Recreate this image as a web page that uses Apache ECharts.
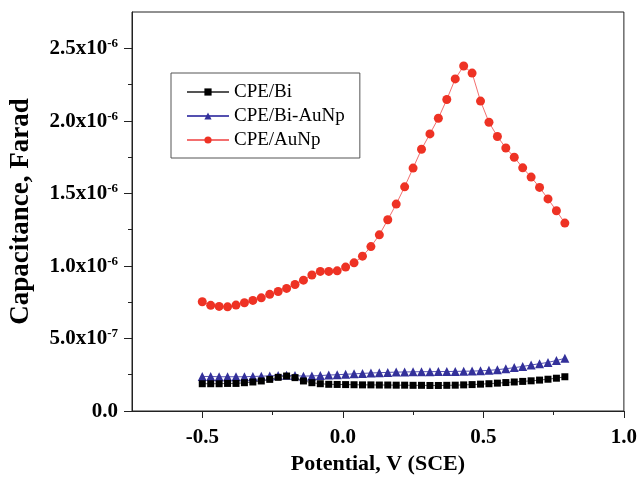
<!DOCTYPE html>
<html>
<head>
<meta charset="utf-8">
<script src="https://cdn.jsdelivr.net/npm/echarts@6/dist/echarts.min.js"></script>
<style>
html,body{margin:0;padding:0;background:#fff;}
#chart{width:640px;height:482px;}
</style>
</head>
<body>
<div id="chart"></div>
<script>
// Potential (V vs SCE)
const potential = [-0.50,-0.47,-0.44,-0.41,-0.38,-0.35,-0.32,-0.29,-0.26,-0.23,-0.20,-0.17,-0.14,-0.11,-0.08,-0.05,-0.02,0.01,0.04,0.07,0.10,0.13,0.16,0.19,0.22,0.25,0.28,0.31,0.34,0.37,0.40,0.43,0.46,0.49,0.52,0.55,0.58,0.61,0.64,0.67,0.70,0.73,0.76,0.79];
// Capacitance readings, in micro-farad (x10^-6 F)
const capBi = [0.188,0.188,0.188,0.190,0.190,0.195,0.200,0.207,0.218,0.232,0.241,0.230,0.207,0.195,0.188,0.184,0.183,0.182,0.181,0.180,0.180,0.179,0.179,0.178,0.178,0.177,0.177,0.176,0.176,0.177,0.178,0.180,0.182,0.185,0.188,0.192,0.196,0.200,0.204,0.208,0.213,0.219,0.226,0.236];
const capBiAuNp = [0.238,0.238,0.236,0.236,0.236,0.236,0.238,0.240,0.242,0.245,0.246,0.244,0.240,0.242,0.244,0.248,0.250,0.253,0.256,0.259,0.262,0.264,0.266,0.268,0.269,0.270,0.271,0.271,0.272,0.272,0.273,0.274,0.275,0.277,0.280,0.285,0.291,0.299,0.307,0.317,0.326,0.335,0.348,0.363];
const capAuNp = [0.753,0.728,0.721,0.718,0.730,0.746,0.762,0.780,0.804,0.824,0.845,0.872,0.902,0.937,0.962,0.962,0.966,0.992,1.021,1.067,1.133,1.214,1.318,1.426,1.545,1.674,1.804,1.910,2.018,2.147,2.289,2.378,2.329,2.136,1.990,1.892,1.813,1.749,1.676,1.612,1.541,1.462,1.380,1.295];
const seriesNames = ['CPE/Bi','CPE/Bi-AuNp','CPE/AuNp'];
const xMajorTicks = [-0.5,0.0,0.5,1.0];
const xMinorTicks = [-0.25,0.25,0.75];
const yMajorTicks = [0,0.5e-6,1.0e-6,1.5e-6,2.0e-6,2.5e-6];
const yMinorTicks = [0.25e-6,0.75e-6,1.25e-6,1.75e-6,2.25e-6];

const FONT = 'Liberation Serif';
const UF = 1e-6;
function pairs(vals){ return potential.map((x,i)=>[x, vals[i]*UF]); }

function yFmt(v){
  if (Math.abs(v) < 1e-15) return '{b|0.0}';
  const s = v.toExponential(1).split('e');
  return '{b|' + s[0] + 'x10}{s|' + parseInt(s[1],10) + '}';
}

const chart = echarts.init(document.getElementById('chart'), null, {renderer:'canvas'});
const axisCol = '#222';
chart.setOption({
  animation:false,
  backgroundColor:'#fff',
  grid:{left:131,right:15,top:12,bottom:71,show:true,borderColor:axisCol,borderWidth:1,backgroundColor:'transparent'},
  legend:{
    orient:'vertical', left:171, top:73,
    data:seriesNames,
    borderColor:'#555', borderWidth:1,
    padding:[9,15,8,15],
    itemWidth:42, itemHeight:9, itemGap:4,
    textStyle:{fontFamily:FONT,fontSize:19,color:'#000',lineHeight:20}
  },
  xAxis:[{
    type:'value', min:-0.75, max:1.0, interval:0.25,
    name:'Potential, V (SCE)', nameLocation:'middle', nameGap:33,
    nameTextStyle:{fontFamily:FONT,fontSize:22,fontWeight:'bold',color:'#000'},
    axisLine:{show:true,onZero:false,lineStyle:{color:axisCol,width:1}},
    axisTick:{show:true,length:7,lineStyle:{color:axisCol},customValues:xMajorTicks},
    axisLabel:{fontFamily:FONT,fontSize:21,fontWeight:'bold',color:'#000',margin:16,customValues:xMajorTicks,
      formatter:v=>v.toFixed(1)},
    splitLine:{show:false}
  },{
    type:'value', position:'bottom', min:-0.75, max:1.0, interval:0.25,
    axisLine:{show:false,onZero:false},
    axisTick:{show:true,length:4,lineStyle:{color:axisCol},customValues:xMinorTicks},
    axisLabel:{show:false}, splitLine:{show:false}
  }],
  yAxis:[{
    type:'value', min:0, max:2.75e-6, interval:0.25e-6,
    name:'Capacitance, Farad', nameLocation:'middle', nameGap:97, nameRotate:90,
    nameTextStyle:{fontFamily:FONT,fontSize:27,fontWeight:'bold',color:'#000'},
    axisLine:{show:true,onZero:false,lineStyle:{color:axisCol,width:1}},
    axisTick:{show:true,length:8,lineStyle:{color:axisCol},customValues:yMajorTicks},
    axisLabel:{margin:14,customValues:yMajorTicks,formatter:yFmt,
      rich:{
        b:{fontFamily:FONT,fontSize:21,fontWeight:'bold',color:'#000',lineHeight:22,verticalAlign:'bottom'},
        s:{fontFamily:FONT,fontSize:13,fontWeight:'bold',color:'#000',lineHeight:22,verticalAlign:'top'}
      }},
    splitLine:{show:false}
  },{
    type:'value', position:'left', min:0, max:2.75e-6, interval:0.25e-6,
    axisLine:{show:false,onZero:false},
    axisTick:{show:true,length:4,lineStyle:{color:axisCol},customValues:yMinorTicks},
    axisLabel:{show:false}, splitLine:{show:false}
  }],
  series:[
    {name:seriesNames[0],type:'line',data:pairs(capBi),z:4,
     symbol:'rect',symbolSize:7,showAllSymbol:true,
     itemStyle:{color:'#000'},lineStyle:{color:'#555',width:1}},
    {name:seriesNames[1],type:'line',data:pairs(capBiAuNp),z:3,
     symbol:'triangle',symbolSize:9,showAllSymbol:true,
     itemStyle:{color:'#33309a'},lineStyle:{color:'#5450b0',width:1}},
    {name:seriesNames[2],type:'line',data:pairs(capAuNp),z:5,
     symbol:'circle',symbolSize:9,showAllSymbol:true,
     itemStyle:{color:'#ee3224'},lineStyle:{color:'#f36f6f',width:1}}
  ]
});
</script>
</body>
</html>
